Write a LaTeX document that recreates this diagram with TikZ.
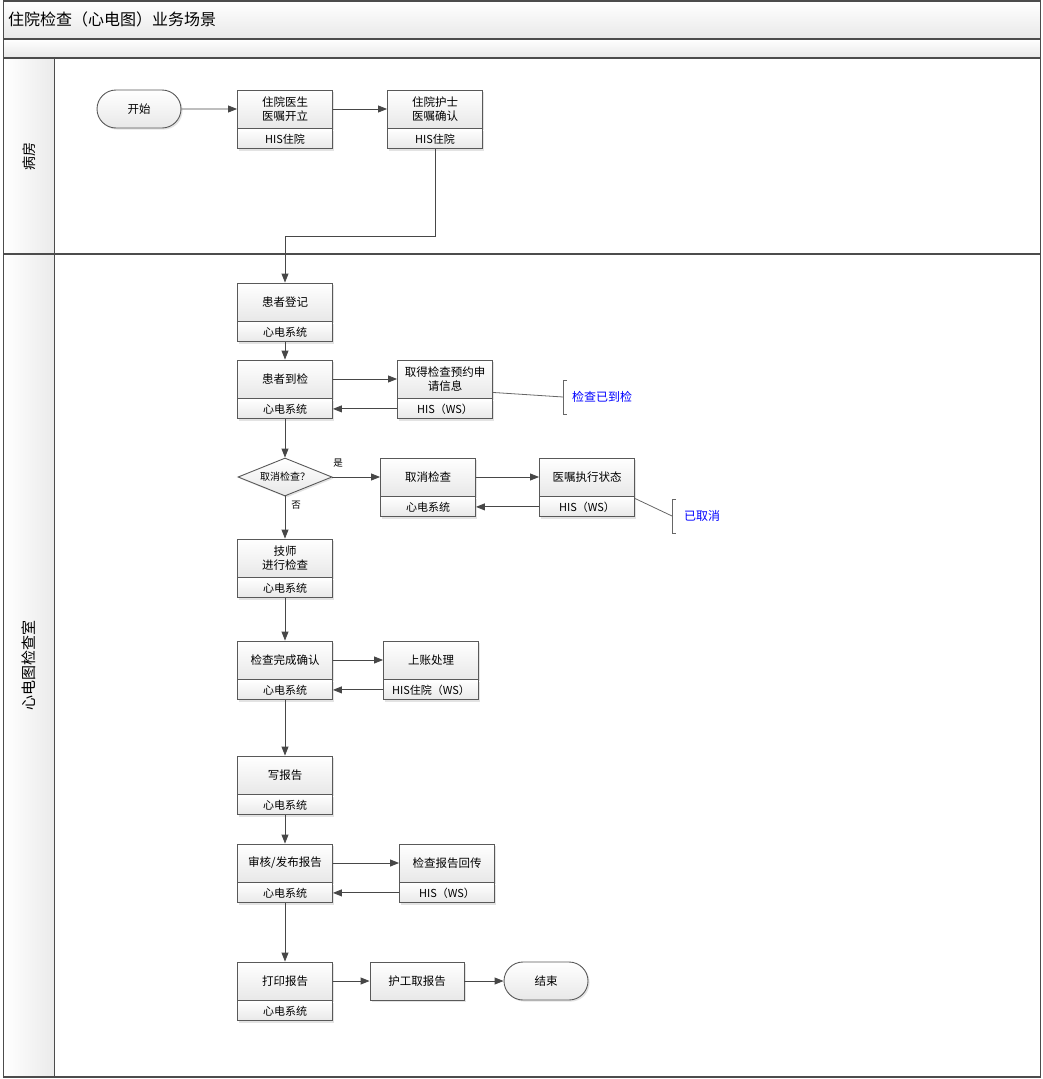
\documentclass[tikz,border=0pt]{standalone}
\usepackage{fontspec}
\setmainfont{Noto Sans CJK SC}
\usetikzlibrary{arrows.meta,shapes.geometric,shapes.misc,shadows,calc}

\newcommand{\fsz}[1]{\fontsize{#1}{#1*1.25}\selectfont}

\tikzset{
  lanebar/.style={draw=black!70, line width=1.2pt},
  boxbase/.style={draw=black!65, line width=0.9pt, top color=white, bottom color=black!9,
    align=center, inner sep=1pt,
    drop shadow={shadow xshift=1.6pt, shadow yshift=-1.6pt, opacity=0.22}},
  topbox/.style={boxbase, minimum width=95pt, minimum height=38pt,
    font=\fontsize{11.5}{14.5}\selectfont},
  subbox/.style={boxbase, minimum width=95pt, minimum height=20pt, anchor=north,
    font=\fontsize{11}{13}\selectfont},
  pill/.style={boxbase, rounded rectangle, minimum width=86pt, minimum height=38pt,
    font=\fontsize{11.5}{14}\selectfont},
  decision/.style={boxbase, diamond, aspect=2.5, minimum width=94pt, minimum height=38pt,
    inner sep=0pt, font=\fontsize{10}{12}\selectfont},
  flow/.style={draw=black!72, line width=0.9pt, -{Triangle[length=9pt,width=7pt]}},
  branch/.style={font=\fontsize{9.5}{11}\selectfont},
  remark/.style={font=\fontsize{12}{14}\selectfont, text=blue, anchor=west, inner sep=0pt},
  remarkline/.style={draw=black!60, line width=0.8pt},
}

\begin{document}
\begin{tikzpicture}[x=1pt, y=-1pt]
\useasboundingbox (0,0) rectangle (1042,1079);

% ---- pool frame, header bars and lane label column ----
\shade[top color=white, bottom color=black!9] (3.5,1) rectangle (1040.5,39);
\shade[top color=white, bottom color=black!9] (3.5,39) rectangle (1040.5,58);
\shade[left color=white, right color=black!8] (3.5,58) rectangle (54,1077);
\draw[lanebar] (3.5,1) rectangle (1040.5,1077);
\draw[lanebar] (3.5,39) -- (1040.5,39);
\draw[lanebar] (3.5,58) -- (1040.5,58);
\draw[lanebar] (3.5,254) -- (1040.5,254);
\draw[line width=1pt, draw=black!70] (54,58) -- (54,1077);

\node[anchor=west, inner sep=0pt, font=\fontsize{16}{18}\selectfont] (title) at (8,19) {住院检查（心电图）业务场景};
\node[rotate=90, font=\fontsize{14}{16}\selectfont] (lane1) at (29,156) {病房};
\node[rotate=90, font=\fontsize{15}{17}\selectfont] (lane2) at (29,665) {心电图检查室};

% ---- ward lane ----
\node[pill] (start) at (139,109) {开始};
\node[topbox] (doc) at (285,109) {住院医生\\医嘱开立};
\node[subbox] (doc-s) at (doc.south) {HIS住院};
\node[topbox] (nurse) at (435,109) {住院护士\\医嘱确认};
\node[subbox] (nurse-s) at (nurse.south) {HIS住院};

% ---- ECG room lane ----
\node[topbox] (reg) at (285,302) {患者登记};
\node[subbox] (reg-s) at (reg.south) {心电系统};
\node[topbox] (arrive) at (285,379) {患者到检};
\node[subbox] (arrive-s) at (arrive.south) {心电系统};
\node[topbox] (info) at (445,379) {取得检查预约申\\请信息};
\node[subbox] (info-s) at (info.south) {HIS（WS）};

\node[decision] (dia) at (285,477) {取消检查？};
\node[topbox] (cancel) at (428,477) {取消检查};
\node[subbox] (cancel-s) at (cancel.south) {心电系统};
\node[topbox] (status) at (587,477) {医嘱执行状态};
\node[subbox] (status-s) at (status.south) {HIS（WS）};

\node[topbox] (tech) at (285,558) {技师\\进行检查};
\node[subbox] (tech-s) at (tech.south) {心电系统};
\node[topbox] (done) at (285,660) {检查完成确认};
\node[subbox] (done-s) at (done.south) {心电系统};
\node[topbox] (bill) at (431,660) {上账处理};
\node[subbox] (bill-s) at (bill.south) {HIS住院（WS）};

\node[topbox] (write) at (285,775) {写报告};
\node[subbox] (write-s) at (write.south) {心电系统};
\node[topbox] (audit) at (285,863) {审核/发布报告};
\node[subbox] (audit-s) at (audit.south) {心电系统};
\node[topbox] (back) at (447,863) {检查报告回传};
\node[subbox] (back-s) at (back.south) {HIS（WS）};

\node[topbox] (print) at (285,981) {打印报告};
\node[subbox] (print-s) at (print.south) {心电系统};
\node[topbox, minimum width=94pt] (fetch) at (417,981) {护工取报告};
\node[pill] (end) at (546,981) {结束};

% ---- branch labels ----
\node[branch] (yes) at (338,463) {是};
\node[branch] (no) at (296,505) {否};

% ---- remarks ----
\node[remark] (note1) at (572,397) {检查已到检};
\node[remark] (note2) at (684,516) {已取消};
\coordinate (b1) at (563,397);
\coordinate (b2) at (672,516);
\draw[remarkline] ($(info.south east)+(0,-6)$) -- (b1);
\draw[remarkline] ($(b1)+(4,-17)$) -- ++(-4,0) -- ++(0,34) -- ++(4,0);
\draw[remarkline] ($(status-s.north east)+(0,2)$) -- (b2);
\draw[remarkline] ($(b2)+(4,-17)$) -- ++(-4,0) -- ++(0,34) -- ++(4,0);

% ---- flow ----
\draw[flow] (start) -- (doc);
\draw[flow] (doc) -- (nurse);
\draw[flow] (nurse-s.south) -- ++(0,87) -| (reg.north);
\draw[flow] (reg-s.south) -- (arrive.north);
\draw[flow] (arrive.east) -- (info.west);
\draw[flow] (info-s.west) -- (arrive-s.east);
\draw[flow] (arrive-s.south) -- (dia.north);
\draw[flow] (dia.east) -- (cancel.west);
\draw[flow] (cancel.east) -- (status.west);
\draw[flow] (status-s.west) -- (cancel-s.east);
\draw[flow] (dia.south) -- (tech.north);
\draw[flow] (tech-s.south) -- (done.north);
\draw[flow] (done.east) -- (bill.west);
\draw[flow] (bill-s.west) -- (done-s.east);
\draw[flow] (done-s.south) -- (write.north);
\draw[flow] (write-s.south) -- (audit.north);
\draw[flow] (audit.east) -- (back.west);
\draw[flow] (back-s.west) -- (audit-s.east);
\draw[flow] (audit-s.south) -- (print.north);
\draw[flow] (print.east) -- (fetch.west);
\draw[flow] (fetch.east) -- (end.west);
\end{tikzpicture}
\end{document}
